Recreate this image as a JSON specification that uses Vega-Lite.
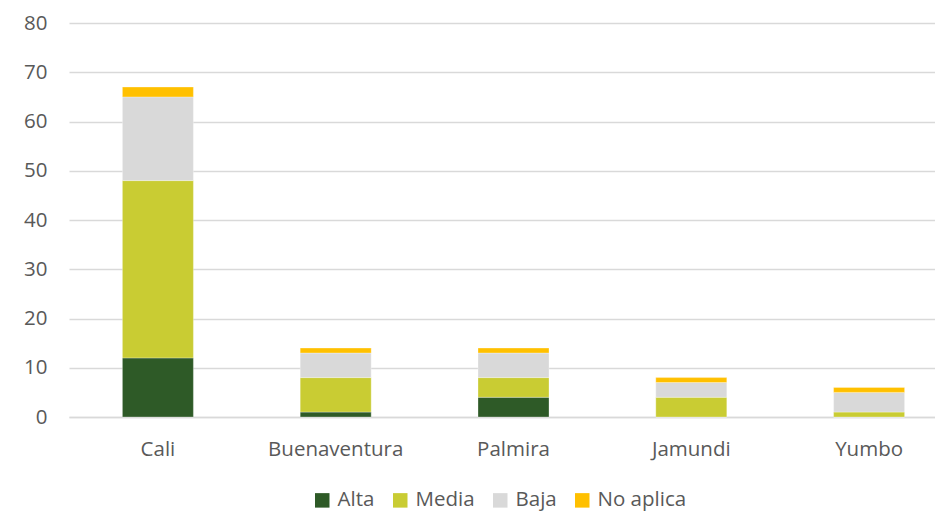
{
  "$schema": "https://vega.github.io/schema/vega-lite/v6.json",
  "width": 866,
  "height": 394,
  "autosize": {"type": "none"},
  "padding": {"left": 69, "top": 23, "right": 0, "bottom": 94},
  "background": "#ffffff",
  "config": {
    "view": {"stroke": null},
    "font": "Open Sans",
    "axis": {"labelFont": "Open Sans", "labelColor": "#595959", "labelFontSize": 20.5}
  },
  "data": {
    "values": [
      {"ciudad": "Cali", "nivel": "Alta", "orden": 1, "valor": 12},
      {"ciudad": "Cali", "nivel": "Media", "orden": 2, "valor": 36},
      {"ciudad": "Cali", "nivel": "Baja", "orden": 3, "valor": 17},
      {"ciudad": "Cali", "nivel": "No aplica", "orden": 4, "valor": 2},
      {"ciudad": "Buenaventura", "nivel": "Alta", "orden": 1, "valor": 1},
      {"ciudad": "Buenaventura", "nivel": "Media", "orden": 2, "valor": 7},
      {"ciudad": "Buenaventura", "nivel": "Baja", "orden": 3, "valor": 5},
      {"ciudad": "Buenaventura", "nivel": "No aplica", "orden": 4, "valor": 1},
      {"ciudad": "Palmira", "nivel": "Alta", "orden": 1, "valor": 4},
      {"ciudad": "Palmira", "nivel": "Media", "orden": 2, "valor": 4},
      {"ciudad": "Palmira", "nivel": "Baja", "orden": 3, "valor": 5},
      {"ciudad": "Palmira", "nivel": "No aplica", "orden": 4, "valor": 1},
      {"ciudad": "Jamundi", "nivel": "Alta", "orden": 1, "valor": 0},
      {"ciudad": "Jamundi", "nivel": "Media", "orden": 2, "valor": 4},
      {"ciudad": "Jamundi", "nivel": "Baja", "orden": 3, "valor": 3},
      {"ciudad": "Jamundi", "nivel": "No aplica", "orden": 4, "valor": 1},
      {"ciudad": "Yumbo", "nivel": "Alta", "orden": 1, "valor": 0},
      {"ciudad": "Yumbo", "nivel": "Media", "orden": 2, "valor": 1},
      {"ciudad": "Yumbo", "nivel": "Baja", "orden": 3, "valor": 4},
      {"ciudad": "Yumbo", "nivel": "No aplica", "orden": 4, "valor": 1}
    ]
  },
  "mark": {"type": "bar", "size": 71, "stroke": "#ffffff", "strokeWidth": 0.5, "strokeOpacity": 0.6},
  "encoding": {
    "x": {
      "field": "ciudad",
      "type": "nominal",
      "sort": ["Cali", "Buenaventura", "Palmira", "Jamundi", "Yumbo"],
      "scale": {"range": [0, 889], "paddingInner": 0, "paddingOuter": 0},
      "axis": {
        "title": null,
        "labelAngle": 0,
        "ticks": false,
        "domain": true,
        "domainColor": "#d9d9d9",
        "domainWidth": 1.5,
        "labelPadding": 32,
        "labelBaseline": "middle"
      }
    },
    "y": {
      "field": "valor",
      "type": "quantitative",
      "aggregate": "sum",
      "stack": "zero",
      "scale": {"domain": [0, 80], "nice": false},
      "axis": {
        "title": null,
        "values": [0, 10, 20, 30, 40, 50, 60, 70, 80],
        "ticks": false,
        "domain": false,
        "gridColor": "#d9d9d9",
        "gridWidth": 1.5,
        "labelPadding": 22
      }
    },
    "color": {
      "field": "nivel",
      "type": "nominal",
      "sort": ["Alta", "Media", "Baja", "No aplica"],
      "scale": {
        "domain": ["Alta", "Media", "Baja", "No aplica"],
        "range": ["#2e5a27", "#c9cc33", "#d9d9d9", "#ffc000"]
      },
      "legend": {
        "title": null,
        "orient": "none",
        "direction": "horizontal",
        "legendX": 243,
        "legendY": 467,
        "symbolType": "square",
        "symbolSize": 210,
        "symbolStrokeWidth": 0,
        "symbolOpacity": 1,
        "labelFont": "Open Sans",
        "labelFontSize": 20.5,
        "labelColor": "#595959",
        "labelOffset": 5,
        "columnPadding": 15
      }
    },
    "order": {"field": "orden", "type": "quantitative"}
  }
}
